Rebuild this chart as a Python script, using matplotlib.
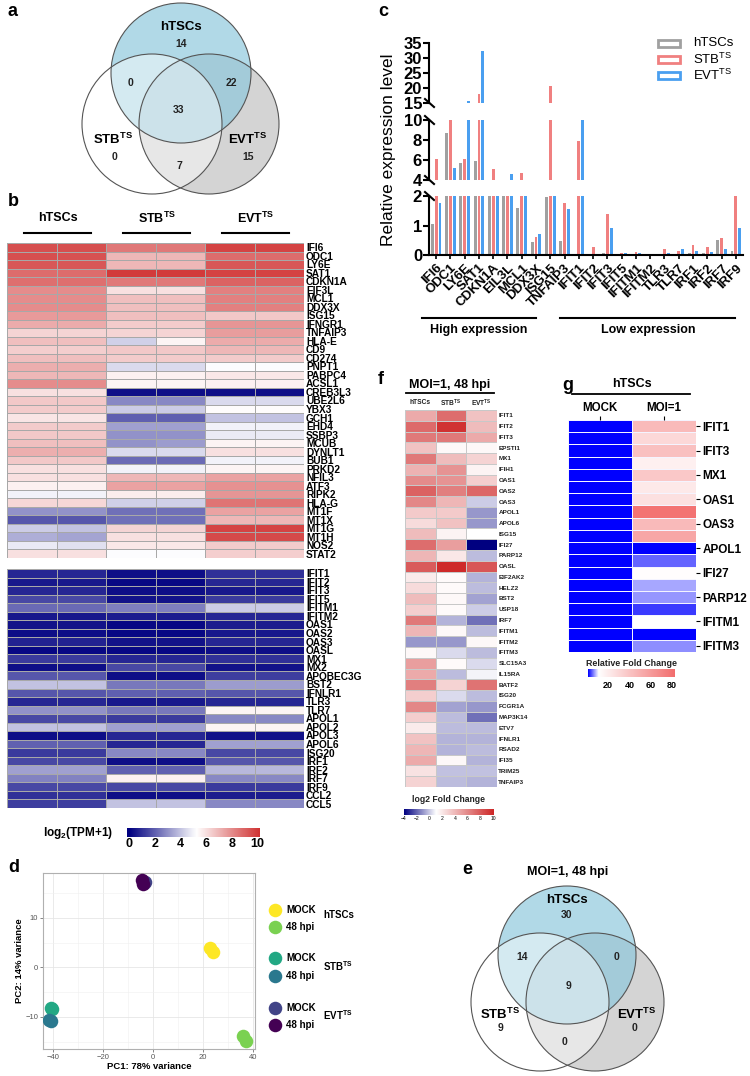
import numpy as np
import matplotlib
matplotlib.use('Agg')
import matplotlib.pyplot as plt
from matplotlib.colors import LinearSegmentedColormap, Normalize
from matplotlib.patches import Circle, Rectangle

plt.rcParams['font.family'] = ['Liberation Sans', 'DejaVu Sans']
plt.rcParams['mathtext.fontset'] = 'custom'
plt.rcParams['mathtext.rm'] = 'Liberation Sans'
plt.rcParams['mathtext.bf'] = 'Liberation Sans:bold'
plt.rcParams['mathtext.it'] = 'Liberation Sans:italic'

STB = r'STB$^{\mathbf{TS}}$'
EVT = r'EVT$^{\mathbf{TS}}$'

# ---- panel a / e : venn counts
# order: hTSC only, hTSC&STB, hTSC&EVT, all three, STB only, EVT only, STB&EVT
venn_a = [14, 0, 22, 33, 0, 15, 7]
venn_e = [30, 14, 0, 9, 9, 0, 0]

# ---- panel b : log2(TPM+1), 2 replicates per group
genes_b_top = ['IFI6', 'ODC1', 'LY6E', 'SAT1', 'CDKN1A', 'EIF3L', 'MCL1', 'DDX3X', 'ISG15',
               'IFNGR1', 'TNFAIP3', 'HLA-E', 'CD9', 'CD274', 'PNPT1', 'PABPC4', 'ACSL1',
               'CREB3L3', 'UBE2L6', 'YBX3', 'GCH1', 'EHD4', 'SSBP3', 'MCUB', 'DYNLT1',
               'BUB1', 'PRKD2', 'NFIL3', 'ATF3', 'RIPK2', 'HLA-G', 'MT1F', 'MT1X', 'MT1G',
               'MT1H', 'NOS2', 'STAT2']
tpm_top = [
    [9.5, 9.5, 8.5, 8.5, 9.8, 9.8],
    [9.5, 9.4, 7.0, 7.0, 8.8, 8.8],
    [9.3, 9.3, 7.0, 7.0, 9.3, 9.3],
    [8.8, 8.8, 10.0, 10.0, 9.8, 9.8],
    [8.7, 8.7, 8.5, 8.5, 9.0, 9.0],
    [8.0, 8.0, 6.0, 6.0, 8.3, 8.3],
    [8.0, 8.0, 6.8, 6.8, 8.3, 8.3],
    [8.0, 8.0, 6.8, 6.8, 8.3, 8.3],
    [7.7, 7.7, 6.8, 6.8, 6.6, 6.6],
    [7.3, 7.3, 6.5, 6.5, 7.8, 7.8],
    [6.3, 6.3, 6.3, 6.3, 7.6, 7.6],
    [6.8, 6.8, 4.3, 5.5, 7.3, 7.3],
    [6.4, 6.4, 6.6, 6.6, 7.0, 7.0],
    [6.8, 6.8, 6.5, 6.5, 6.5, 6.5],
    [7.2, 7.2, 4.5, 4.5, 5.2, 5.2],
    [7.0, 7.0, 5.6, 5.6, 5.8, 5.8],
    [8.0, 8.0, 5.5, 5.5, 5.6, 5.6],
    [6.0, 6.0, 0.3, 0.3, 0.3, 0.3],
    [6.6, 6.6, 2.8, 2.8, 4.5, 4.5],
    [6.5, 6.5, 4.2, 4.2, 5.3, 5.3],
    [5.9, 5.9, 2.0, 2.0, 4.0, 4.0],
    [6.5, 6.5, 3.3, 3.3, 5.0, 5.0],
    [6.6, 6.6, 3.0, 3.0, 4.8, 4.8],
    [6.8, 6.8, 3.0, 3.2, 5.5, 5.5],
    [7.2, 7.2, 4.5, 4.5, 6.0, 6.0],
    [6.6, 6.6, 2.2, 2.2, 5.0, 5.0],
    [6.0, 6.0, 5.0, 5.0, 5.5, 5.5],
    [6.0, 6.0, 7.0, 7.0, 7.5, 7.5],
    [5.6, 5.6, 7.5, 7.5, 7.9, 7.9],
    [5.0, 5.0, 5.7, 5.7, 7.8, 7.8],
    [6.2, 6.2, 4.3, 4.3, 8.6, 8.6],
    [3.0, 3.0, 2.3, 2.3, 7.5, 7.5],
    [1.8, 1.8, 2.3, 2.3, 7.0, 7.0],
    [4.2, 4.0, 6.3, 6.3, 9.8, 9.8],
    [3.6, 3.4, 6.0, 6.0, 9.6, 9.6],
    [4.8, 4.6, 5.8, 5.8, 6.5, 6.5],
    [6.0, 6.0, 5.2, 5.2, 6.4, 6.4],
]
genes_b_bot = ['IFIT1', 'IFIT2', 'IFIT3', 'IFIT5', 'IFITM1', 'IFITM2', 'OAS1', 'OAS2', 'OAS3',
               'OASL', 'MX1', 'MX2', 'APOBEC3G', 'BST2', 'IFNLR1', 'TLR3', 'TLR7', 'APOL1',
               'APOL2', 'APOL3', 'APOL6', 'ISG20', 'IRF1', 'IRF2', 'IRF7', 'IRF9', 'CCL2', 'CCL5']
tpm_bot = [
    [0.8, 0.8, 0.3, 0.3, 1.0, 1.0],
    [0.5, 0.5, 0.2, 0.2, 0.8, 0.8],
    [0.8, 0.8, 0.3, 0.3, 0.5, 0.5],
    [1.5, 1.5, 0.4, 0.4, 1.2, 1.2],
    [2.2, 2.2, 2.6, 2.6, 4.2, 4.2],
    [0.5, 0.5, 0.6, 0.6, 0.8, 0.8],
    [0.4, 0.4, 0.2, 0.2, 0.6, 0.6],
    [0.3, 0.3, 0.2, 0.2, 0.5, 0.5],
    [0.7, 0.7, 0.4, 0.4, 0.8, 0.8],
    [0.2, 0.2, 0.2, 0.2, 0.3, 0.3],
    [1.2, 1.2, 0.8, 0.8, 1.0, 1.0],
    [0.3, 0.3, 1.5, 1.5, 0.4, 0.4],
    [1.8, 1.8, 0.3, 0.3, 1.3, 1.3],
    [4.0, 4.0, 2.5, 2.5, 3.2, 3.2],
    [1.8, 1.8, 2.0, 2.0, 1.8, 1.8],
    [0.8, 0.8, 0.5, 0.5, 0.8, 0.8],
    [3.0, 3.0, 2.5, 2.5, 5.5, 5.5],
    [1.5, 1.5, 1.2, 1.2, 2.8, 2.8],
    [4.0, 4.0, 3.3, 3.3, 5.5, 5.5],
    [0.3, 0.3, 0.8, 0.8, 0.4, 0.4],
    [2.0, 2.0, 0.8, 0.8, 3.3, 3.3],
    [1.2, 1.2, 2.8, 2.8, 1.5, 1.5],
    [1.5, 1.5, 0.3, 0.3, 1.8, 1.8],
    [3.3, 3.3, 2.0, 2.0, 3.8, 3.8],
    [2.7, 2.7, 5.6, 5.6, 2.8, 2.8],
    [1.5, 1.5, 1.5, 1.5, 1.2, 1.2],
    [1.0, 1.0, 0.3, 0.3, 0.6, 0.6],
    [1.3, 1.3, 4.0, 4.0, 2.8, 2.8],
]

# ---- panel c : relative expression
genes_c = ['IFI6', 'ODC1', 'LY6E', 'SAT1', 'CDKN1A', 'EIL3L', 'MCL1', 'DDX3X', 'ISG15', 'TNFAIP3',
           'IFIT1', 'IFIT2', 'IFIT3', 'IFIT5', 'IFITM1', 'IFITM2', 'TLR3', 'TLR7', 'IRF1', 'IRF2',
           'IRF7', 'IRF9']
rel_htsc = [1.05, 8.7, 5.7, 5.9, 3.0, 3.0, 1.6, 0.45, 1.95, 0.48, 0.05, 0.04, 0.06, 0.05, 0.03,
            0.05, 0.04, 0.05, 0.08, 0.06, 0.5, 0.15]
rel_stb = [6.1, 10.0, 6.1, 18.0, 5.1, 3.0, 4.7, 0.6, 20.8, 1.75, 7.9, 0.27, 1.38, 0.08, 0.1,
           0.05, 0.2, 0.15, 0.33, 0.28, 0.57, 2.0]
rel_evt = [1.75, 5.2, 15.8, 32.5, 3.0, 4.6, 3.0, 0.7, 2.0, 1.55, 10.0, 0.05, 0.93, 0.07, 0.06,
           0.05, 0.08, 0.2, 0.15, 0.1, 0.2, 0.92]

# ---- panel f : log2 fold change (hTSCs, STB, EVT)
genes_f = ['IFIT1', 'IFIT2', 'IFIT3', 'EPSTI1', 'MX1', 'IFIH1', 'OAS1', 'OAS2', 'OAS3', 'APOL1',
           'APOL6', 'ISG15', 'IFI27', 'PARP12', 'OASL', 'EIF2AK2', 'HELZ2', 'BST2', 'USP18',
           'IRF7', 'IFITM1', 'IFITM2', 'IFITM3', 'SLC15A3', 'IL15RA', 'BATF2', 'ISG20',
           'FCGR1A', 'MAP3K14', 'ETV7', 'IFNLR1', 'RSAD2', 'IFI35', 'TRIM25', 'TNFAIP3']
lfc_f = [
    [4.5, 7.0, 3.5], [7.2, 9.5, 3.8], [6.5, 6.5, 4.5], [3.5, 1.3, 1.3], [6.5, 3.8, 2.8],
    [4.2, 5.5, 1.5], [5.8, 5.5, 3.0], [7.5, 6.3, 7.3], [6.0, 4.0, 0.0], [3.2, 3.2, -1.0],
    [2.5, 3.5, -1.0], [3.8, 1.5, 1.0], [7.0, 5.0, -4.0], [4.0, 2.0, -0.3], [7.8, 9.8, 8.0],
    [1.8, 1.2, -0.5], [2.5, 1.2, -0.3], [3.8, 1.3, -0.8], [3.0, 1.2, 0.0], [6.5, -0.5, -1.8],
    [4.0, 1.3, -0.3], [-1.0, -1.0, 1.3], [1.3, 0.3, -0.3], [5.0, 1.2, 0.3], [4.5, -0.3, 0.8],
    [6.3, 2.8, 6.8], [3.0, 0.3, -0.3], [6.0, -0.8, -1.0], [3.0, -0.3, -1.8], [1.8, -0.3, -0.3],
    [3.5, -0.5, -0.5], [4.0, -0.5, -0.3], [4.5, 1.3, -0.5], [2.2, -0.2, -0.2], [2.8, -0.3, -0.5],
]

# ---- panel g : relative fold change in hTSCs (every other row labelled)
genes_g = ['IFIT1', '', 'IFIT3', '', 'MX1', '', 'OAS1', '', 'OAS3', '', 'APOL1', '', 'IFI27', '',
           'PARP12', '', 'IFITM1', '', 'IFITM3']
fold_mock = [1] * 19
fold_moi = [45, 30, 42, 18, 38, 22, 26, 80, 45, 55, 1, 5, 12, 7.5, 7, 3.5, 11, 1.2, 6.5]

# ---- panel d : PCA
pca_groups = ['hTSCs MOCK', 'hTSCs 48 hpi', 'STB MOCK', 'STB 48 hpi', 'EVT MOCK', 'EVT 48 hpi']
pca_colors = ['#fde725', '#7ad151', '#22a884', '#2a788e', '#414487', '#440154']
pc1 = [[22.7, 24.0], [36.0, 37.0], [-40.7, -40.5], [-41.6, -40.9], [-3.2, -3.5], [-4.3, -3.9]]
pc2 = [[3.9, 3.1], [-13.8, -14.8], [-8.2, -8.4], [-10.6, -10.8], [17.3, 17.0], [17.6, 16.8]]

W, H = 750, 1076
fig = plt.figure(figsize=(W / 100, H / 100), dpi=100)


def px_axes(x0, y0, x1, y1):
    return fig.add_axes([x0 / W, 1 - y1 / H, (x1 - x0) / W, (y1 - y0) / H])


ov = px_axes(0, 0, W, H)
ov.set_xlim(0, W)
ov.set_ylim(H, 0)
ov.axis('off')

for lt, (lx, ly) in zip('abcdefg', [(8, 12), (8, 202), (378, 12), (8, 868), (462, 870), (378, 380), (562, 385)]):
    ov.text(lx, ly, lt, fontsize=13, fontweight='bold', ha='left', va='center')


def venn(cx, r, counts, spots):
    (hx, hy), (sx, sy), (ex, ey) = cx
    ov.add_patch(Circle((ex, ey), r, facecolor='#bdbdbd', alpha=0.65, lw=0))
    ov.add_patch(Circle((hx, hy), r, facecolor='#8cc8dc', alpha=0.68, lw=0))
    ov.add_patch(Circle((sx, sy), r, facecolor='white', alpha=0.45, lw=0))
    for (x, y) in cx:
        ov.add_patch(Circle((x, y), r, facecolor='none', edgecolor='#555555', lw=0.8))
    for n, (x, y) in zip(counts, spots):
        ov.text(x, y, str(n), fontsize=7.5, fontweight='bold', ha='center', va='center', color='#222222')


# panel a
venn([(181, 73), (152, 124), (209, 124)], 70, venn_a,
     [(181, 44), (130, 83), (231, 83), (179, 110), (114, 157), (248, 157), (179, 166)])
ov.text(181, 27, 'hTSCs', fontsize=9.5, fontweight='bold', ha='center', va='center')
ov.text(113, 139, STB, fontsize=9.5, fontweight='bold', ha='center', va='center')
ov.text(248, 139, EVT, fontsize=9.5, fontweight='bold', ha='center', va='center')

# panel e
ov.text(568, 872, 'MOI=1, 48 hpi', fontsize=9, fontweight='bold', ha='center', va='center')
venn([(567, 955), (540, 1002), (595, 1002)], 69, venn_e,
     [(567, 915), (522, 957), (616, 957), (568, 986), (500, 1028), (635, 1028), (564, 1042)])
ov.text(567, 900, 'hTSCs', fontsize=9.5, fontweight='bold', ha='center', va='center')
ov.text(500, 1014, STB, fontsize=9.5, fontweight='bold', ha='center', va='center')
ov.text(637, 1014, EVT, fontsize=9.5, fontweight='bold', ha='center', va='center')

# panel b heatmaps
cmap_b = LinearSegmentedColormap.from_list('b', ['#000080', '#ffffff', '#cd2626'])
norm_b = Normalize(0, 10.5)
for (x0, y0, x1, y1), genes, vals in [((7, 243, 304, 558), genes_b_top, tpm_top),
                                      ((7, 569, 304, 808), genes_b_bot, tpm_bot)]:
    ax = px_axes(x0, y0, x1, y1)
    arr = np.array(vals)
    ax.pcolormesh(arr, cmap=cmap_b, norm=norm_b, edgecolors='#a8a8a8', linewidth=0.4)
    ax.set_ylim(len(genes), 0)
    ax.set_xlim(0, 6)
    ax.set_xticks([])
    ax.yaxis.tick_right()
    ax.set_yticks(np.arange(len(genes)) + 0.5)
    ax.set_yticklabels(genes, fontsize=7.3, fontweight='bold')
    ax.tick_params(axis='y', length=0, pad=1.5)
    for s in ax.spines.values():
        s.set_visible(False)

for name, xa, xb in [('hTSCs', 24, 91), (STB, 123, 190), (EVT, 222, 289)]:
    ov.plot([xa, xb], [233, 233], color='black', lw=1.5)
    ov.text((xa + xb) / 2, 218, name, fontsize=9, fontweight='bold', ha='center', va='center')

cb = px_axes(127, 828, 260, 837)
cb.imshow(np.linspace(-0.15, 10.2, 256)[None, :], aspect='auto', cmap=cmap_b, norm=norm_b,
          extent=[-0.15, 10.2, 0, 1])
cb.set_yticks([])
cb.set_xticks([0, 2, 4, 6, 8, 10])
cb.tick_params(axis='x', length=0, pad=1, labelsize=9)
for t in cb.get_xticklabels():
    t.set_fontweight('bold')
for s in cb.spines.values():
    s.set_visible(False)
ov.text(113, 833, r'log$_\mathbf{2}$(TPM+1)', fontsize=8.5, fontweight='bold', ha='right', va='center')

# panel c broken bar chart
cols_c = ['#a0a0a0', '#f08080', '#4a9ff0']
xc = np.arange(len(genes_c))
segs = [((429, 196, 743, 255), (0, 2), [0, 1, 2]),
        ((429, 120, 743, 180), (4, 10), [4, 6, 8, 10]),
        ((429, 43, 743, 103), (15, 35), [15, 20, 25, 30, 35])]
for i, (rect, yl, ticks) in enumerate(segs):
    ax = px_axes(*rect)
    for k, (vals, col) in enumerate(zip([rel_htsc, rel_stb, rel_evt], cols_c)):
        ax.bar(xc + (k - 1) * 0.27, vals, width=0.2, color=col, linewidth=0)
    ax.set_ylim(*yl)
    ax.set_xlim(-0.5, len(genes_c) - 0.5)
    ax.set_yticks(ticks)
    ax.tick_params(axis='y', labelsize=12, width=1.5, length=4, pad=1)
    for t in ax.get_yticklabels():
        t.set_fontweight('bold')
    ax.spines['top'].set_visible(False)
    ax.spines['right'].set_visible(False)
    ax.spines['left'].set_linewidth(1.5)
    ax.patch.set_alpha(0)
    if i == 0:
        ax.spines['bottom'].set_linewidth(1.5)
        ax.set_xticks(xc)
        ax.set_xticklabels(genes_c, rotation=45, ha='right', va='top', rotation_mode='anchor',
                           fontsize=9.5, fontweight='bold')
        ax.tick_params(axis='x', width=1.2, length=3, pad=2)
    else:
        ax.spines['bottom'].set_visible(False)
        ax.set_xticks([])

for yb in [103, 120, 180, 196]:
    ov.plot([425, 434], [yb - 4, yb + 4], color='black', lw=1.5)
ov.text(388, 150, 'Relative expression level', fontsize=12.5, rotation=90, ha='center', va='center')

for lab, col, yy in zip(['hTSCs', r'STB$^{\mathrm{TS}}$', r'EVT$^{\mathrm{TS}}$'], cols_c, [43, 59, 75]):
    ov.add_patch(Rectangle((658, yy - 3.5), 22, 7, facecolor='none', edgecolor=col, lw=2))
    ov.text(693, yy, lab, fontsize=9.5, ha='left', va='center')

ov.plot([422, 536], [318, 318], color='black', lw=1.5)
ov.plot([560, 735], [318, 318], color='black', lw=1.5)
ov.text(479, 330, 'High expression', fontsize=9, fontweight='bold', ha='center', va='center')
ov.text(648, 330, 'Low expression', fontsize=9, fontweight='bold', ha='center', va='center')

# panel f
cmap_f = LinearSegmentedColormap.from_list('f', [(0, '#000080'), (5 / 14, '#ffffff'), (1, '#cd2626')])
norm_f = Normalize(-4, 10)
axf = px_axes(405, 410, 497, 787)
axf.pcolormesh(np.array(lfc_f), cmap=cmap_f, norm=norm_f, edgecolors='#c8c8c8', linewidth=0.5)
axf.set_ylim(len(genes_f), 0)
axf.set_xlim(0, 3)
axf.set_xticks([])
axf.yaxis.tick_right()
axf.set_yticks(np.arange(len(genes_f)) + 0.5)
axf.set_yticklabels(genes_f, fontsize=4.6, fontweight='bold', color='#222222')
axf.tick_params(axis='y', length=0, pad=1)
for s in axf.spines.values():
    s.set_visible(False)
ov.text(450, 385, 'MOI=1, 48 hpi', fontsize=9, fontweight='bold', ha='center', va='center')
ov.plot([406, 494], [393, 393], color='black', lw=1.3)
for lab, xx in zip(['hTSCs', STB, EVT], [420, 451, 481]):
    ov.text(xx, 403, lab, fontsize=4.8, fontweight='bold', ha='center', va='center', color='#222222')

cbf = px_axes(404, 809, 493, 815)
cbf.imshow(np.linspace(-4, 10, 256)[None, :], aspect='auto', cmap=cmap_f, norm=norm_f,
           extent=[-4, 10, 0, 1])
cbf.set_yticks([])
cbf.set_xticks([-4, -2, 0, 2, 4, 6, 8, 10])
cbf.tick_params(axis='x', length=0, pad=1, labelsize=3.6)
for s in cbf.spines.values():
    s.set_visible(False)
ov.text(448, 800, 'log2 Fold Change', fontsize=6.2, fontweight='bold', ha='center', va='center', color='#222222')

# panel g
cmap_g = LinearSegmentedColormap.from_list('g', [(0, '#0000ff'), (0.12, '#ffffff'), (1, '#f26d6d')])
norm_g = Normalize(1, 83)
axg = px_axes(568, 420, 696, 652)
axg.pcolormesh(np.array([fold_mock, fold_moi]).T, cmap=cmap_g, norm=norm_g,
               edgecolors='#f4f4ff', linewidth=0.5)
axg.set_ylim(len(genes_g), 0)
axg.set_xlim(0, 2)
axg.xaxis.tick_top()
axg.set_xticks([0.5, 1.5])
axg.set_xticklabels(['MOCK', 'MOI=1'], fontsize=8.3, fontweight='bold')
axg.tick_params(axis='x', length=3, pad=1)
axg.yaxis.tick_right()
yt = [i + 0.5 for i, g in enumerate(genes_g) if g]
axg.set_yticks(yt)
axg.set_yticklabels([g for g in genes_g if g], fontsize=8.5, fontweight='bold')
axg.tick_params(axis='y', length=3, pad=1.5)
for s in axg.spines.values():
    s.set_visible(False)
ov.text(632, 384, 'hTSCs', fontsize=9, fontweight='bold', ha='center', va='center')
ov.plot([572, 690], [394, 394], color='black', lw=1.3)

cbg = px_axes(588, 669, 675, 677)
cbg.imshow(np.linspace(1, 83, 256)[None, :], aspect='auto', cmap=cmap_g, norm=norm_g,
           extent=[1, 83, 0, 1])
cbg.set_yticks([])
cbg.set_xticks([20, 40, 60, 80])
cbg.tick_params(axis='x', length=0, pad=3, labelsize=6.5)
for t in cbg.get_xticklabels():
    t.set_fontweight('bold')
for s in cbg.spines.values():
    s.set_visible(False)
ov.text(632, 663, 'Relative Fold Change', fontsize=6.4, fontweight='bold', ha='center', va='center', color='#222222')

# panel d PCA
axd = px_axes(43, 873, 255, 1049)
for gi in range(len(pca_groups)):
    axd.scatter(pc1[gi], pc2[gi], s=95, color=pca_colors[gi], linewidths=0, zorder=3)
axd.set_xlim(-44, 40.8)
axd.set_ylim(-16.5, 19.1)
axd.set_xticks([-40, -20, 0, 20, 40])
axd.set_yticks([-10, 0, 10])
axd.set_xticks([-30, -10, 10, 30], minor=True)
axd.set_yticks([-15, -5, 5, 15], minor=True)
axd.grid(which='major', color='#e6e6e6', lw=0.6)
axd.grid(which='minor', color='#f0f0f0', lw=0.4)
axd.set_axisbelow(True)
axd.tick_params(which='major', labelsize=5.5, colors='#555555', length=2, width=0.5, pad=1.5)
axd.tick_params(which='minor', length=0)
for s in axd.spines.values():
    s.set_color('#b0b0b0')
    s.set_linewidth(0.8)
axd.set_xlabel('PC1: 78% variance', fontsize=6.8, fontweight='bold', labelpad=1)
axd.set_ylabel('PC2: 14% variance', fontsize=6.8, fontweight='bold', labelpad=1)

leg_y = [910, 927, 958, 976, 1008, 1025]
for gi, yy in enumerate(leg_y):
    ov.scatter([275], [yy], s=95, color=pca_colors[gi], linewidths=0)
    ov.text(286, yy, 'MOCK' if gi % 2 == 0 else '48 hpi', fontsize=7, fontweight='bold',
            ha='left', va='center')
for lab, yy in zip(['hTSCs', STB, EVT], [915, 966, 1015]):
    ov.text(323, yy, lab, fontsize=7, fontweight='bold', ha='left', va='center')

fig.savefig('out.png', dpi=100)
